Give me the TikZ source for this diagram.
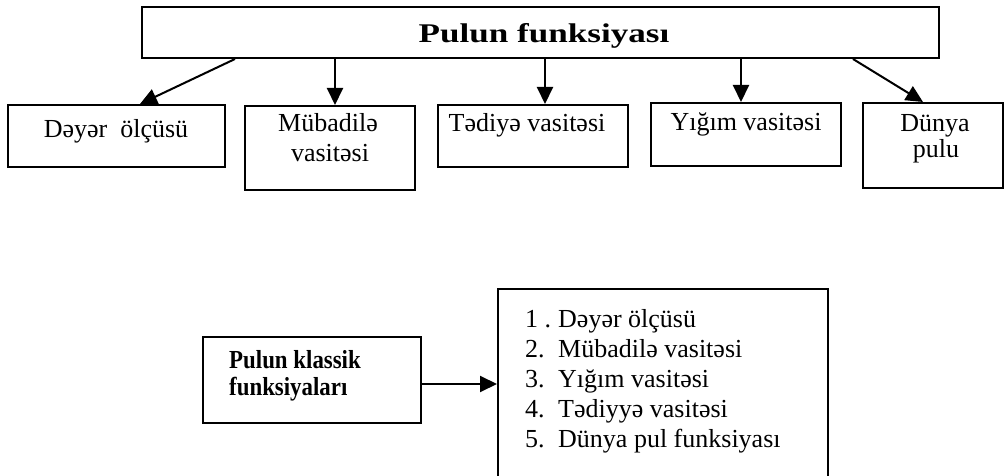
\documentclass[tikz,border=0pt]{standalone}
\usepackage{fontspec}
\setmainfont{Liberation Serif}
\usetikzlibrary{arrows.meta}
\begin{document}
\begin{tikzpicture}[x=1pt,y=-1pt,
  box/.style={draw,line width=2pt,inner sep=0pt,rectangle},
  conn/.style={line width=2pt,-{Triangle[length=17pt,width=16pt]}},
  lbl/.style={font=\fontsize{26}{30}\selectfont,inner sep=0pt},
  ttl/.style={font=\fontsize{27}{30}\selectfont\bfseries,inner sep=0pt}]
\useasboundingbox (0,0) rectangle (1005,476);
\clip (0,0) rectangle (1005,476);

% upper scheme: the title box and its five functions
\node[box,minimum width=797pt,minimum height=51pt] (top) at (540.5,32.5) {};
\node[ttl,anchor=base] (ttitle) at (544,43) {\scalebox{1.3}[1]{Pulun funksiyası}};

\node[box,minimum width=217pt,minimum height=62pt] (b1) at (116.5,136) {};
\node[box,minimum width=170pt,minimum height=84pt] (b2) at (330,148) {};
\node[box,minimum width=190pt,minimum height=62pt] (b3) at (533,136) {};
\node[box,minimum width=190pt,minimum height=63pt] (b4) at (746,134.5) {};
\node[box,minimum width=140pt,minimum height=85pt] (b5) at (933,145.5) {};

\node[lbl,anchor=base] (t1) at (116,138) {Dəyər\ \ ölçüsü};
\node[lbl,anchor=base] (t2a) at (328,132) {Mübadilə};
\node[lbl,anchor=base] (t2b) at (330,162) {vasitəsi};
\node[lbl,anchor=base] (t3) at (527,132) {Tədiyə vasitəsi};
\node[lbl,anchor=base] (t4) at (746,131) {Yığım vasitəsi};
\node[lbl,anchor=base] (t5a) at (935,132) {Dünya};
\node[lbl,anchor=base] (t5b) at (936,158) {pulu};

% connector columns
\coordinate (s1) at (235,0);
\coordinate (s2) at (335,0);
\coordinate (s3) at (545,0);
\coordinate (s4) at (741,0);
\coordinate (s5) at (853,0);
\coordinate (e1) at (140,0);
\coordinate (e5) at (923,0);

\draw[conn] (top.south -| s1) -- (b1.north -| e1);
\draw[conn] (top.south -| s2) -- (b2.north -| s2);
\draw[conn] (top.south -| s3) -- (b3.north -| s3);
\draw[conn] (top.south -| s4) -- (b4.north -| s4);
\draw[conn] (top.south -| s5) -- (b5.north -| e5);

% lower scheme: classical functions and their list
\node[box,minimum width=218pt,minimum height=86pt] (cls) at (312,380) {};
\node[ttl,anchor=base west,font=\fontsize{26}{30}\selectfont\bfseries] (c1) at (229,368) {\scalebox{0.88}[1]{Pulun klassik}};
\node[ttl,anchor=base west,font=\fontsize{26}{30}\selectfont\bfseries] (c2) at (229,395) {\scalebox{0.88}[1]{funksiyaları}};

\node[box,minimum width=330pt,minimum height=201pt] (list) at (663,389.5) {};
\foreach \n/\t [count=\i] in {{1 .}/{Dəyər ölçüsü},{2.}/{Mübadilə vasitəsi},{3.}/{Yığım vasitəsi},{4.}/{Tədiyyə vasitəsi},{5.}/{Dünya pul funksiyası}}
  \node[lbl,anchor=base west] (l\i) at (525,{327+30.2*(\i-1)}) {\makebox[33pt][l]{\n}\t};

\coordinate (hz) at (0,384);
\draw[conn] (cls.east |- hz) -- (list.west |- hz);
\end{tikzpicture}
\end{document}
